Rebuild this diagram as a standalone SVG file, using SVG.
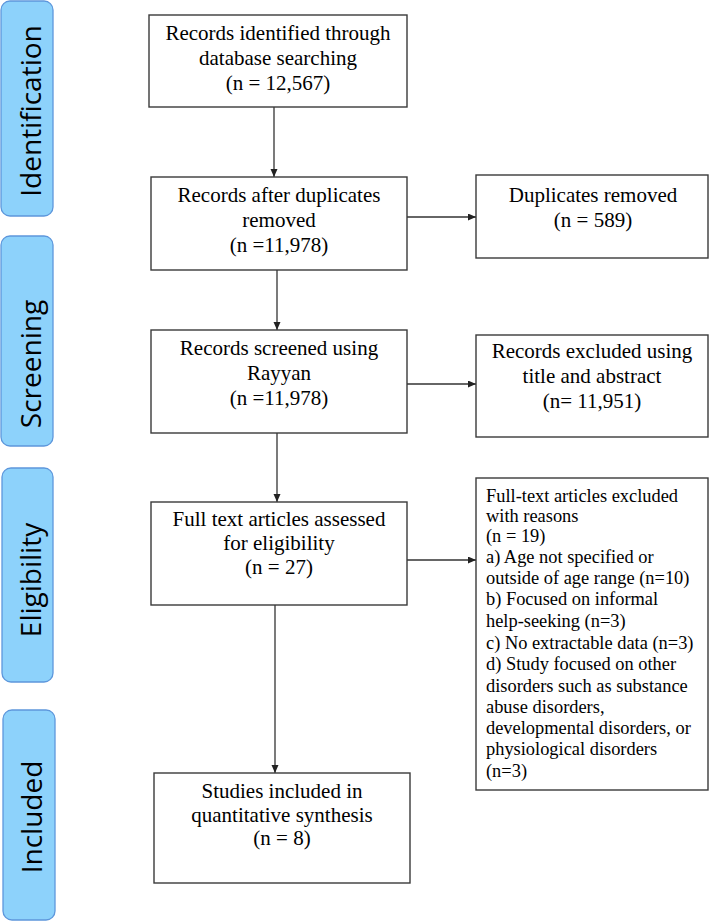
<svg xmlns="http://www.w3.org/2000/svg" width="709" height="922" viewBox="0 0 709 922">
<style>
.bar{fill:#8dd2fb;stroke:#5d97dc;stroke-width:1.3}
.bt{font-family:"Open Sans","DejaVu Sans",sans-serif;font-size:28px;fill:#000;text-anchor:middle}
.box{fill:#fff;stroke:#3a3a3a;stroke-width:1.4}
.t{font-family:'Liberation Serif','DejaVu Serif','Noto Serif',serif;font-size:21px;fill:#000;text-anchor:middle}
.s{font-family:'Liberation Serif','DejaVu Serif','Noto Serif',serif;font-size:18.4px;fill:#000}
.c{fill:none;stroke:#333;stroke-width:1.3;marker-end:url(#ah)}
</style>
<defs>
<marker id="ah" markerUnits="userSpaceOnUse" markerWidth="9" markerHeight="8" refX="8" refY="3.5" orient="auto">
<path d="M0,0 L8,3.5 L0,7 z" fill="#222"/>
</marker>
</defs>
<rect width="709" height="922" fill="#fff"/>
<g id="phase-identification"><rect class="bar" x="1" y="1" width="52" height="215" rx="9"/><text class="bt" transform="translate(41,111) rotate(-90)">Identification</text></g>
<g id="phase-screening"><rect class="bar" x="1" y="236" width="52" height="210" rx="9"/><text class="bt" transform="translate(41,364) rotate(-90)">Screening</text></g>
<g id="phase-eligibility"><rect class="bar" x="2" y="468" width="51" height="214" rx="9"/><text class="bt" transform="translate(41,580) rotate(-90)">Eligibility</text></g>
<g id="phase-included"><rect class="bar" x="3" y="710" width="52" height="210" rx="9"/><text class="bt" transform="translate(42,817) rotate(-90)">Included</text></g>

<g id="connectors">
<path class="c" d="M274,107 V177"/>
<path class="c" d="M277,270 V330"/>
<path class="c" d="M277,433 V502"/>
<path class="c" d="M275,605 V773"/>
<path class="c" d="M407,217 H476"/>
<path class="c" d="M407,384 H476"/>
<path class="c" d="M407,560 H476"/>
</g>

<g id="identified"><rect class="box" x="149" y="15" width="258" height="92"/>
<text class="t" x="278" y="40">Records identified through</text>
<text class="t" x="278" y="65">database searching</text>
<text class="t" x="278" y="90">(n = 12,567)</text></g>

<g id="after-duplicates"><rect class="box" x="151" y="177" width="256" height="93"/>
<text class="t" x="279" y="202">Records after duplicates</text>
<text class="t" x="279" y="227">removed</text>
<text class="t" x="279" y="252">(n =11,978)</text></g>

<g id="duplicates-removed"><rect class="box" x="476" y="175" width="232" height="83"/>
<text class="t" x="593" y="202">Duplicates removed</text>
<text class="t" x="593" y="227">(n = 589)</text></g>

<g id="screened"><rect class="box" x="151" y="330" width="256" height="103"/>
<text class="t" x="279" y="355">Records screened using</text>
<text class="t" x="279" y="380">Rayyan</text>
<text class="t" x="279" y="405">(n =11,978)</text></g>

<g id="excluded-title"><rect class="box" x="476" y="335" width="232" height="102"/>
<text class="t" x="592" y="358">Records excluded using</text>
<text class="t" x="592" y="383">title and abstract</text>
<text class="t" x="592" y="408">(n= 11,951)</text></g>

<g id="fulltext-assessed"><rect class="box" x="151" y="502" width="256" height="103"/>
<text class="t" x="279" y="526">Full text articles assessed</text>
<text class="t" x="279" y="550">for eligibility</text>
<text class="t" x="279" y="574">(n = 27)</text></g>

<g id="fulltext-excluded"><rect class="box" x="476" y="478" width="232" height="312"/>
<text class="s" x="486" y="502">Full-text articles excluded</text>
<text class="s" x="486" y="522">with reasons</text>
<text class="s" x="486" y="542">(n = 19)</text>
<text class="s" x="486" y="563">a) Age not specified or</text>
<text class="s" x="486" y="584">outside of age range (n=10)</text>
<text class="s" x="486" y="605">b) Focused on informal</text>
<text class="s" x="486" y="627">help-seeking (n=3)</text>
<text class="s" x="486" y="649">c) No extractable data (n=3)</text>
<text class="s" x="486" y="670">d) Study focused on other</text>
<text class="s" x="486" y="692">disorders such as substance</text>
<text class="s" x="486" y="713">abuse disorders,</text>
<text class="s" x="486" y="734">developmental disorders, or</text>
<text class="s" x="486" y="755">physiological disorders</text>
<text class="s" x="486" y="777">(n=3)</text></g>

<g id="included"><rect class="box" x="154" y="773" width="256" height="110"/>
<text class="t" x="282" y="798">Studies included in</text>
<text class="t" x="282" y="822">quantitative synthesis</text>
<text class="t" x="282" y="845">(n = 8)</text></g>
</svg>
